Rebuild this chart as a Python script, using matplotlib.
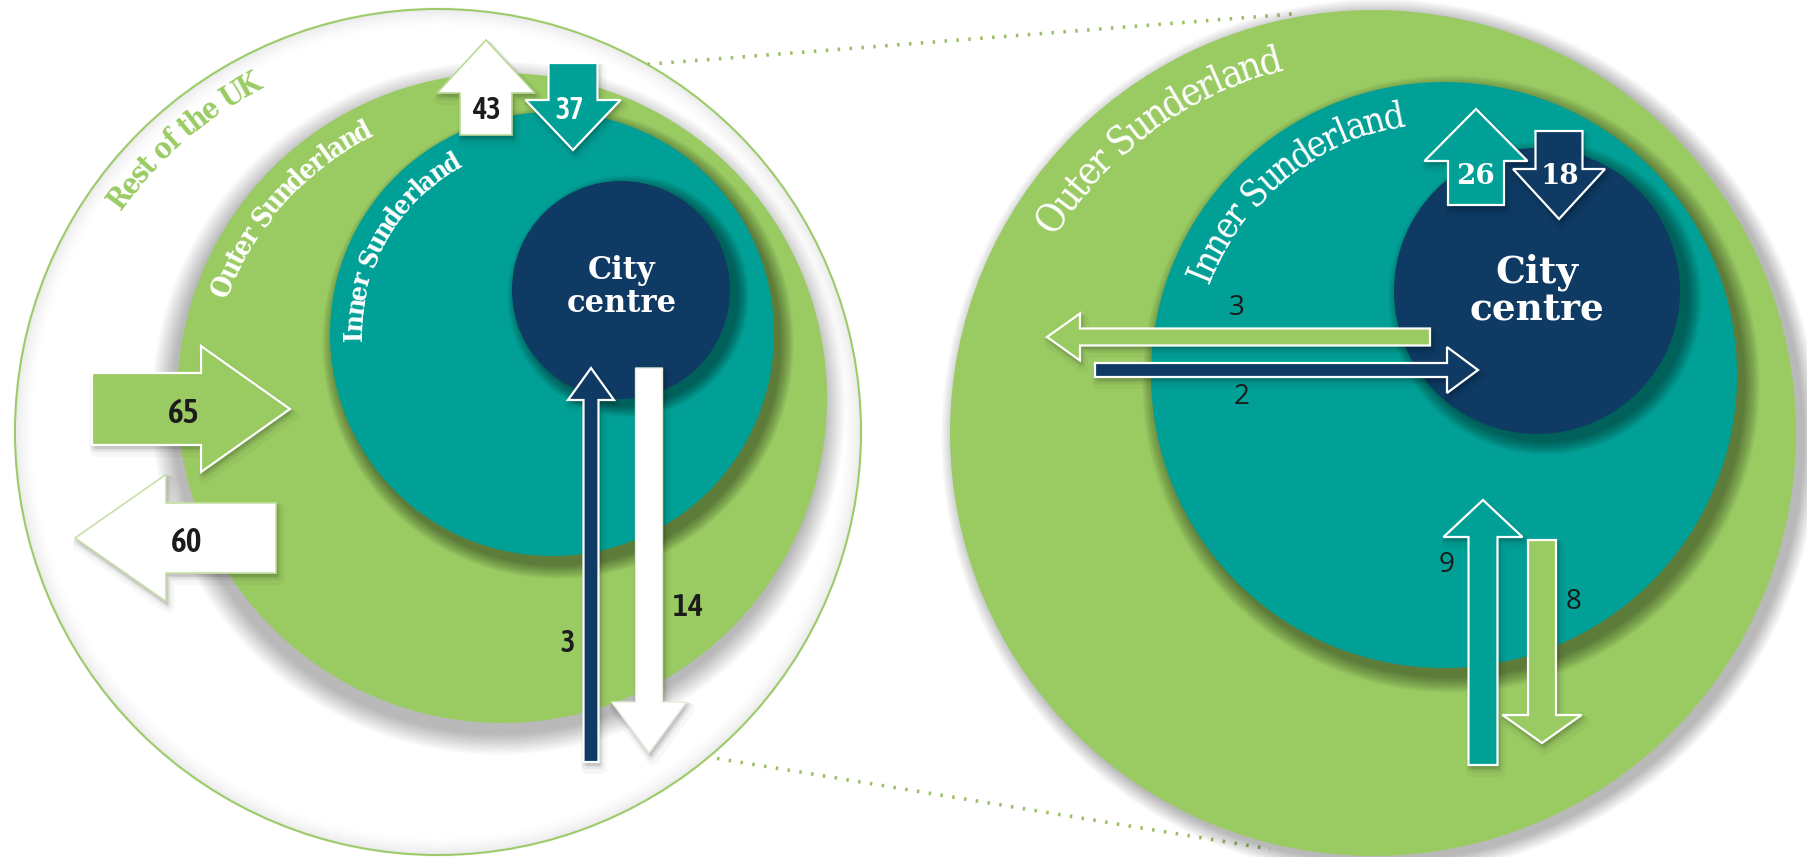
import numpy as np
import matplotlib
matplotlib.use("Agg")
import matplotlib.pyplot as plt
from matplotlib.patches import Circle, FancyArrow
from matplotlib.font_manager import FontProperties

# ---------------- data ----------------
zone_names = ["Rest of the UK", "Outer Sunderland", "Inner Sunderland", "City centre"]
# left (whole-city) flows
left_flow_names = ["UK->Outer", "Outer->UK", "Outer->UK (top)", "UK->Inner", "Outer->City", "City->Outer"]
left_flow_values = [65, 60, 43, 37, 3, 14]
# right (zoomed) flows
right_flow_names = ["Inner->Outer (top)", "Inner->City", "City->Outer", "Outer->City", "Outer->Inner", "Inner->Outer"]
right_flow_values = [26, 18, 3, 2, 9, 8]

# ---------------- style ----------------
GREEN = "#9acb63"
TEAL = "#00a096"
NAVY = "#0e3a63"
WHITE = "#ffffff"
INK = "#1b1b1b"
DOT = "#9cc068"
SERIF = ["DejaVu Serif"]
NUM_BOLD = ["Asap Condensed", "DejaVu Sans"]
NUM_REG = ["Open Sans", "DejaVu Sans"]


def label_fp(bold, size):
    return FontProperties(family="DejaVu Serif", stretch="condensed",
                          weight="bold" if bold else "normal", size=size)


W, H = 1807, 857
fig = plt.figure(figsize=(W / 100, H / 100), dpi=100)
ax = fig.add_axes([0, 0, 1, 1])
ax.set_xlim(0, W)
ax.set_ylim(H, 0)
ax.axis("off")
renderer = fig.canvas.get_renderer()


def soft_shadow(cx, cy, r, dx, dy, spread, alpha, z, n=18):
    for i in range(n):
        rr = r + spread * (1 - i / n)
        ax.add_patch(Circle((cx + dx, cy + dy), rr, color="black",
                            alpha=alpha / n, lw=0, zorder=z))


def inner_glow(cx, cy, r, depth, alpha, z, n=14):
    for i in range(n):
        rr = r - depth * i / n
        ax.add_patch(Circle((cx, cy), rr, fill=False, ec="black",
                            lw=depth / n * 1.6, alpha=alpha * (1 - i / n) ** 2 / 3, zorder=z))


def disc(cx, cy, r, color, z, shadow=(4, 8, 14, 0.3)):
    if shadow is not None:
        dx, dy, sp, al = shadow
        soft_shadow(cx, cy, r, dx, dy, sp, al, z - 0.5)
    ax.add_patch(Circle((cx, cy), r, color=color, lw=0, zorder=z))


def arrow(x0, y0, x1, y1, width, head_w, head_len, fc, ec, z, lw=1.6):
    dx, dy = x1 - x0, y1 - y0
    for k, a in [(8, 0.03), (5, 0.045), (3, 0.06)]:
        ax.add_patch(FancyArrow(x0 + k * 0.4, y0 + k * 0.8, dx, dy, width=width,
                                head_width=head_w, head_length=head_len,
                                length_includes_head=True, fc="black", ec="black",
                                lw=k, alpha=a, zorder=z - 0.1, joinstyle="round"))
    ax.add_patch(FancyArrow(x0, y0, dx, dy, width=width, head_width=head_w,
                            head_length=head_len, length_includes_head=True,
                            fc=fc, ec=ec, lw=lw, zorder=z, joinstyle="miter"))


def arc_text(text, cx, cy, R, phi0, phi1, color, bold, z, grow=1.12):
    fp10 = label_fp(bold, 10)

    def tw(s):
        return renderer.get_text_width_height_descent(s, fp10, ismath=False)[0]

    total = tw(text)
    arc = R * np.radians(abs(phi0 - phi1))
    size = 10 * arc / total
    sc = size / 10
    fp = label_fp(bold, size * grow)
    for i, ch in enumerate(text):
        if ch == " ":
            continue
        s = (tw(text[: i + 1]) - tw(ch) / 2) * sc
        phi = np.radians(phi0) - s / R
        x = cx + R * np.cos(phi)
        y = cy - R * np.sin(phi)
        ax.text(x, y, ch, rotation=np.degrees(phi) - 90, rotation_mode="anchor",
                ha="center", va="baseline", color=color, fontproperties=fp, zorder=z)


def num(x, y, v, size, color=INK, weight="semibold", family=NUM_BOLD, z=30):
    ax.text(x, y, str(v), ha="center", va="center", fontsize=size, color=color,
            weight=weight, family=family, zorder=z)


# ---------------- dotted connectors ----------------
ax.plot([600, 1292], [68, 14], color=DOT, lw=2.6, ls=(0, (0.7, 2.6)), zorder=1)
ax.plot([470, 1270], [718, 849], color=DOT, lw=2.6, ls=(0, (0.7, 2.6)), zorder=1)

# ---------------- left diagram ----------------
ax.add_patch(Circle((438, 432), 423, fc=WHITE, ec="none", zorder=2))
inner_glow(438, 432, 423, 22, 0.12, 2.2)
ax.add_patch(Circle((438, 432), 423, fill=False, ec=GREEN, lw=1.4, zorder=2.4))
disc(502, 398, 325, GREEN, 4, shadow=(-4, 10, 22, 0.3))
disc(552, 334, 222, TEAL, 6, shadow=(6, 9, 14, 0.4))
disc(621, 290, 109, NAVY, 8, shadow=(7, 6, 12, 0.4))

arc_text(zone_names[0], 438, 432, 386, 145, 117, GREEN, True, 10)
arc_text(zone_names[1], 502, 398, 292, 160, 116, WHITE, True, 10)
arc_text(zone_names[2], 552, 334, 190, 182, 118, WHITE, True, 10)
ax.text(622, 287, "City\ncentre", ha="center", va="center", fontsize=22,
        color=WHITE, family=SERIF, weight="bold", linespacing=1.05, zorder=10)

# flows (left)
arrow(92, 409, 290, 409, 72, 126, 89, GREEN, WHITE, 20)
arrow(276, 538, 75, 538, 70, 127, 91, WHITE, "#c6e0a6", 20, lw=1.2)
arrow(486, 135, 486, 40, 52, 98, 53, WHITE, "#b9d995", 20, lw=1.2)
arrow(573, 63, 573, 150, 49, 95, 50, TEAL, WHITE, 20)
arrow(591, 762, 591, 368, 15, 46, 32, NAVY, WHITE, 20)
arrow(649, 368, 649, 753, 27, 75, 51, WHITE, "#e4ecd8", 20, lw=1.0)

num(184, 413, left_flow_values[0], 24)
num(187, 542, left_flow_values[1], 24)
num(486, 110, left_flow_values[2], 22)
num(570, 110, left_flow_values[3], 22, color=WHITE)
num(568, 643, left_flow_values[4], 22)
num(688, 607, left_flow_values[5], 23)

# ---------------- right diagram ----------------
disc(1373, 433, 423, GREEN, 4, shadow=(7, 5, 16, 0.3))
disc(1444, 375, 293, TEAL, 6, shadow=(7, 9, 16, 0.4))
disc(1537, 291, 143, NAVY, 8, shadow=(8, 7, 14, 0.4))

arc_text(zone_names[1], 1373, 433, 374, 148, 104, WHITE, False, 10)
arc_text(zone_names[2], 1444, 375, 252, 159, 99, WHITE, False, 10)
ax.text(1537, 291, "City\ncentre", ha="center", va="center", fontsize=27,
        color=WHITE, family=SERIF, weight="bold", linespacing=1.05, zorder=10)

arrow(1476, 205, 1476, 109, 56, 103, 52, TEAL, WHITE, 20)
arrow(1559, 131, 1559, 219, 47, 92, 50, NAVY, WHITE, 20)
arrow(1430, 337, 1047, 337, 17, 47, 33, GREEN, WHITE, 20)
arrow(1095, 370, 1478, 370, 14, 46, 31, NAVY, WHITE, 20)
arrow(1483, 765, 1483, 500, 29, 79, 37, TEAL, WHITE, 20)
arrow(1542, 540, 1542, 743, 28, 79, 28, GREEN, WHITE, 20)

num(1476, 176, right_flow_values[0], 20, color=WHITE, weight="bold", family=SERIF)
num(1560, 176, right_flow_values[1], 20, color=WHITE, weight="bold", family=SERIF)
num(1237, 308, right_flow_values[2], 20, weight="normal", family=NUM_REG)
num(1242, 397, right_flow_values[3], 20, weight="normal", family=NUM_REG)
num(1447, 565, right_flow_values[4], 20, weight="normal", family=NUM_REG)
num(1574, 602, right_flow_values[5], 20, weight="normal", family=NUM_REG)

fig.savefig("out.png", dpi=100, facecolor="white")
